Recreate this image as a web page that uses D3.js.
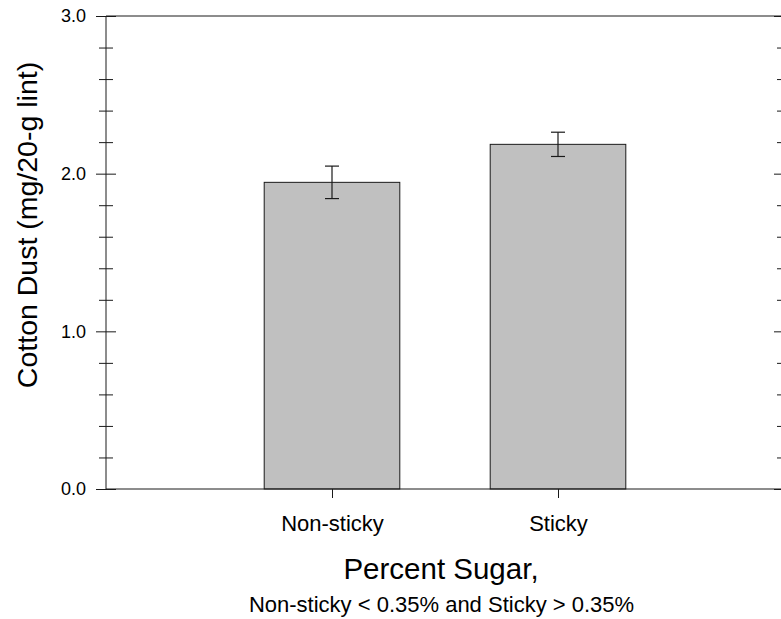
<!DOCTYPE html>
<html>
<head>
<meta charset="utf-8">
<script src="https://cdn.jsdelivr.net/npm/d3@7"></script>
<style>
  html, body { margin: 0; padding: 0; background: #fff; }
  svg { display: block; }
  text { font-family: "Liberation Sans", Arial, Helvetica, sans-serif; fill: #000; }
</style>
</head>
<body>
<svg id="chart" width="781" height="619"></svg>
<script>
// ---- data ----
const categories = ["Non-sticky", "Sticky"];
const means = [1.945, 2.186];
const errors = [0.103, 0.077];
const majorTicks = [0, 1, 2, 3];
const majorTickLabels = ["0.0", "1.0", "2.0", "3.0"];
const minorTicks = [0.2, 0.4, 0.6, 0.8, 1.2, 1.4, 1.6, 1.8, 2.2, 2.4, 2.6, 2.8];
const yTitle = "Cotton Dust (mg/20-g lint)";
const xTitle = "Percent Sugar,";
const xSubtitle = "Non-sticky < 0.35% and Sticky > 0.35%";

// ---- layout ----
const plotLeft = 106, plotRight = 784, plotTop = 16, plotBottom = 489;
const svg = d3.select("#chart");
const x = d3.scaleLinear().domain([0, 3]).range([plotLeft, plotRight]);
const y = d3.scaleLinear().domain([0, 3]).range([plotBottom, plotTop]);
const barW = x(0.6) - x(0);
const stroke = "#1a1a1a";
const fontFam = '"Liberation Sans", Arial, sans-serif';

function styleAxis(g) {
  g.select(".domain").remove();
  g.selectAll(".tick line").attr("stroke", stroke).attr("stroke-width", 1);
}

// left axis: ticks crossing
svg.append("g").attr("transform", `translate(${plotLeft},0)`)
  .call(d3.axisLeft(y).tickValues(majorTicks).tickSize(10).tickPadding(10)
    .tickFormat((d, i) => majorTickLabels[i]))
  .call(styleAxis)
  .call(g => g.selectAll(".tick text").attr("font-size", 18)
    .style("font-family", fontFam).attr("fill", "#000"));
svg.append("g").attr("transform", `translate(${plotLeft},0)`)
  .call(d3.axisRight(y).tickValues(majorTicks).tickSize(10).tickFormat(""))
  .call(styleAxis);
svg.append("g").attr("transform", `translate(${plotLeft},0)`)
  .call(d3.axisLeft(y).tickValues(minorTicks).tickSize(7).tickFormat(""))
  .call(styleAxis);
svg.append("g").attr("transform", `translate(${plotLeft},0)`)
  .call(d3.axisRight(y).tickValues(minorTicks).tickSize(7).tickFormat(""))
  .call(styleAxis);

// right axis: inward ticks
svg.append("g").attr("transform", `translate(${plotRight},0)`)
  .call(d3.axisLeft(y).tickValues(majorTicks).tickSize(10).tickFormat(""))
  .call(styleAxis);
svg.append("g").attr("transform", `translate(${plotRight},0)`)
  .call(d3.axisLeft(y).tickValues(minorTicks).tickSize(7).tickFormat(""))
  .call(styleAxis);

// bottom axis
svg.append("g").attr("transform", `translate(0,${plotBottom})`)
  .call(d3.axisBottom(x).tickValues([1, 2]).tickSize(9).tickPadding(17)
    .tickFormat((d, i) => categories[i]))
  .call(styleAxis)
  .call(g => g.selectAll(".tick text").attr("font-size", 22)
    .style("font-family", fontFam).attr("fill", "#000"));

// bars
svg.append("g").selectAll("rect").data(means).join("rect")
  .attr("x", (d, i) => x(i + 1) - barW / 2)
  .attr("y", d => y(d))
  .attr("width", barW)
  .attr("height", d => y(0) - y(d))
  .attr("fill", "#c0c0c0")
  .attr("stroke", stroke)
  .attr("stroke-width", 1);

// error bars
const eb = svg.append("g").attr("stroke", stroke).attr("stroke-width", 1.2).attr("fill", "none");
means.forEach((m, i) => {
  const cx = x(i + 1);
  eb.append("line").attr("x1", cx).attr("x2", cx).attr("y1", y(m - errors[i])).attr("y2", y(m + errors[i]));
  eb.append("line").attr("x1", cx - 7).attr("x2", cx + 7).attr("y1", y(m + errors[i])).attr("y2", y(m + errors[i]));
  eb.append("line").attr("x1", cx - 7).attr("x2", cx + 7).attr("y1", y(m - errors[i])).attr("y2", y(m - errors[i]));
});

// frame lines
const frame = svg.append("g").attr("stroke", stroke).attr("stroke-width", 1);
frame.append("line").attr("x1", plotLeft).attr("x2", plotRight).attr("y1", y(3)).attr("y2", y(3));
frame.append("line").attr("x1", plotLeft).attr("x2", plotRight).attr("y1", y(0)).attr("y2", y(0));
frame.append("line").attr("x1", plotLeft).attr("x2", plotLeft).attr("y1", y(0)).attr("y2", y(3));
frame.append("line").attr("x1", plotRight).attr("x2", plotRight).attr("y1", y(0)).attr("y2", y(3));

// titles
svg.append("text")
  .attr("transform", "translate(36.5,225) rotate(-90)")
  .attr("text-anchor", "middle")
  .attr("font-size", 28.5)
  .text(yTitle);
svg.append("text")
  .attr("x", 441).attr("y", 579)
  .attr("text-anchor", "middle")
  .attr("font-size", 29.5)
  .text(xTitle);
svg.append("text")
  .attr("x", 441.5).attr("y", 612)
  .attr("text-anchor", "middle")
  .attr("font-size", 22)
  .text(xSubtitle);
</script>
</body>
</html>
